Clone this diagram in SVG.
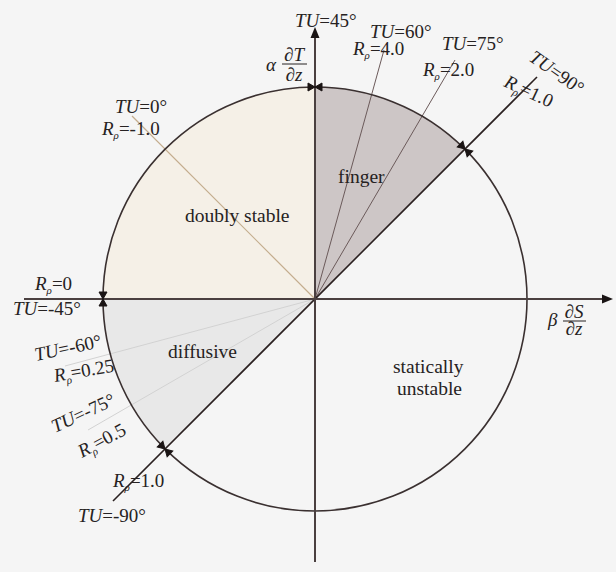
<svg xmlns="http://www.w3.org/2000/svg" width="616" height="572" viewBox="0 0 616 572">
<defs>
<style>
.t{font-family:"Liberation Serif","Times New Roman",serif;font-size:19px;fill:#262222}
.r{font-family:"Liberation Serif","Times New Roman",serif;font-size:19.5px;fill:#262222}
.i{font-style:italic}
.s{font-size:11px;font-style:italic}
.ax{stroke:#4a4040;stroke-width:2;fill:none}
.thin{stroke:#6b5a5a;stroke-width:1;fill:none}
.pale{stroke:#d2d2d2;stroke-width:1;fill:none}
</style>
<path id="bow" d="M-7,-4 L7,4 L7,-4 L-7,4 Z" fill="#1a1414" stroke="#1a1414" stroke-width="1"/>
</defs>
<rect width="616" height="572" fill="#f5f5f5"/>

<g id="regions">
<path id="doubly-stable-region" d="M315,299 L315,87 A212,212 0 0 0 103,299 Z" fill="#f5f0e7"/>
<path id="finger-region" d="M315,299 L315,87 A212,212 0 0 1 464.9,149.1 Z" fill="#cdc6c6"/>
<path id="diffusive-region" d="M315,299 L103,299 A212,212 0 0 0 165.1,448.9 Z" fill="#e8e8e8"/>
</g>

<g id="connectors">
<line class="pale" x1="315" y1="299" x2="65" y2="366"/>
<line class="pale" x1="315" y1="299" x2="88" y2="430"/>
<line x1="315" y1="299" x2="132" y2="116" stroke="#c4ad8e" stroke-width="1.2"/>
<line class="thin" x1="315" y1="299" x2="384" y2="50"/>
<line class="thin" x1="315" y1="299" x2="455" y2="60"/>
<circle cx="315" cy="299" r="212" fill="none" stroke="#3a3030" stroke-width="1.6"/>
<line x1="113" y1="501" x2="537" y2="77" stroke="#2a2020" stroke-width="1.6"/>
<line class="ax" x1="315" y1="562" x2="315" y2="36"/>
<polygon points="315,27 310.5,38 319.5,38" fill="#1a1414"/>
<line class="ax" x1="24" y1="299" x2="604" y2="299"/>
<polygon points="613,299 602,294.5 602,303.5" fill="#1a1414"/>
<use href="#bow" transform="translate(315,87)"/>
<use href="#bow" transform="translate(103,299) rotate(90)"/>
<use href="#bow" transform="translate(465,149) rotate(45)"/>
<use href="#bow" transform="translate(165,449) rotate(45)"/>
</g>

<g id="axis-labels">
<text class="t" x="295" y="27"><tspan class="i">TU</tspan>=45°</text>
<text class="t i" x="266" y="71">α</text>
<text class="t i" x="294" y="61" text-anchor="middle" font-size="18">∂T</text>
<line x1="282" y1="64" x2="307" y2="64" stroke="#262222" stroke-width="1"/>
<text class="t i" x="294" y="81" text-anchor="middle" font-size="18">∂z</text>
<text class="t i" x="548" y="326">β</text>
<text class="t i" x="574" y="318" text-anchor="middle" font-size="18">∂S</text>
<line x1="563" y1="321" x2="586" y2="321" stroke="#262222" stroke-width="1"/>
<text class="t i" x="574" y="335" text-anchor="middle" font-size="18">∂z</text>
</g>

<g id="line-labels">
<text class="t" x="370" y="38"><tspan class="i">TU</tspan>=60°</text>
<text class="t" x="353" y="55"><tspan class="i">R</tspan><tspan class="s" dy="4">ρ</tspan><tspan dy="-4">=4.0</tspan></text>
<text class="t" x="442" y="50"><tspan class="i">TU</tspan>=75°</text>
<text class="t" x="423" y="76"><tspan class="i">R</tspan><tspan class="s" dy="4">ρ</tspan><tspan dy="-4">=2.0</tspan></text>
<text class="t" transform="translate(528,60) rotate(35)"><tspan class="i">TU</tspan>=90°</text>
<text class="t" transform="translate(503,86) rotate(25)"><tspan class="i">R</tspan><tspan class="s" dy="4">ρ</tspan><tspan dy="-4">=1.0</tspan></text>
<text class="t" x="115" y="113"><tspan class="i">TU</tspan>=0°</text>
<text class="t" x="102" y="135"><tspan class="i">R</tspan><tspan class="s" dy="4">ρ</tspan><tspan dy="-4">=-1.0</tspan></text>
<text class="t" x="35" y="290"><tspan class="i">R</tspan><tspan class="s" dy="4">ρ</tspan><tspan dy="-4">=0</tspan></text>
<text class="t" x="13" y="315"><tspan class="i">TU</tspan>=-45°</text>
<text class="t" transform="translate(36,361) rotate(-12)"><tspan class="i">TU</tspan>=-60°</text>
<text class="t" transform="translate(55,382) rotate(-10)"><tspan class="i">R</tspan><tspan class="s" dy="4">ρ</tspan><tspan dy="-4">=0.25</tspan></text>
<text class="t" transform="translate(55,433) rotate(-25)"><tspan class="i">TU</tspan>=-75°</text>
<text class="t" transform="translate(82,458) rotate(-28)"><tspan class="i">R</tspan><tspan class="s" dy="4">ρ</tspan><tspan dy="-4">=0.5</tspan></text>
<text class="t" x="113" y="487"><tspan class="i">R</tspan><tspan class="s" dy="4">ρ</tspan><tspan dy="-4">=1.0</tspan></text>
<text class="t" x="78" y="522"><tspan class="i">TU</tspan>=-90°</text>
</g>

<g id="doubly-stable"><text class="r" x="185" y="222">doubly stable</text></g>
<g id="finger"><text class="r" x="338" y="183">finger</text></g>
<g id="diffusive"><text class="r" x="168" y="358">diffusive</text></g>
<g id="statically-unstable"><text class="r" x="393" y="373">statically</text><text class="r" x="397" y="395">unstable</text></g>
</svg>
